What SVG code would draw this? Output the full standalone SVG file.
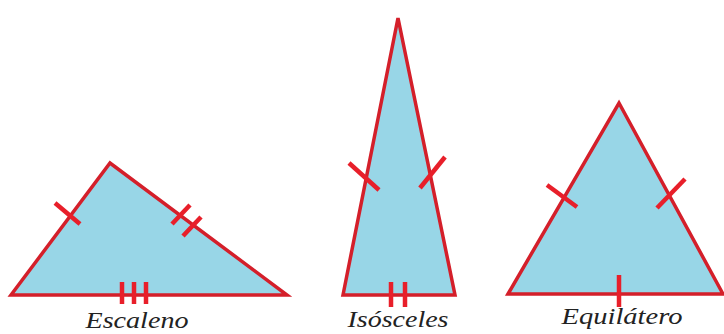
<svg xmlns="http://www.w3.org/2000/svg" width="724" height="334" viewBox="0 0 724 334">
<style>
.tri{fill:#98d6e7;stroke:#d41f2a;stroke-width:3.5;stroke-linejoin:miter}
.tick{stroke:#e81f2a;stroke-width:4.5;fill:none}
.lbl{font-family:"Liberation Serif","DejaVu Serif",serif;font-style:italic;font-size:23px;fill:#222;text-anchor:middle}
</style>
<rect width="724" height="334" fill="#ffffff"/>
<g id="escaleno">
<polygon class="tri" points="11,295 110,163 287,295"/>
<line class="tick" x1="55" y1="203" x2="80" y2="224"/>
<line class="tick" x1="172" y1="224" x2="190" y2="205"/>
<line class="tick" x1="183" y1="236" x2="201" y2="217"/>
<line class="tick" x1="122" y1="282" x2="122" y2="304"/>
<line class="tick" x1="134" y1="282" x2="134" y2="304"/>
<line class="tick" x1="146" y1="282" x2="146" y2="304"/>
<text class="lbl" x="137" y="328" textLength="103" lengthAdjust="spacingAndGlyphs">Escaleno</text>
</g>
<g id="isosceles">
<polygon class="tri" points="343,295 398,18 455,295"/>
<line class="tick" x1="349" y1="163" x2="379" y2="190"/>
<line class="tick" x1="445" y1="157" x2="420" y2="188"/>
<line class="tick" x1="391" y1="282" x2="391" y2="307"/>
<line class="tick" x1="405" y1="282" x2="405" y2="307"/>
<text class="lbl" x="398" y="327" textLength="101" lengthAdjust="spacingAndGlyphs">Isósceles</text>
</g>
<g id="equilatero">
<polygon class="tri" points="508,294 619,103 723,294"/>
<line class="tick" x1="547" y1="185" x2="577" y2="207"/>
<line class="tick" x1="685" y1="179" x2="657" y2="208"/>
<line class="tick" x1="619" y1="275" x2="619" y2="307"/>
<text class="lbl" x="622" y="324" textLength="121" lengthAdjust="spacingAndGlyphs">Equilátero</text>
</g>
<g id="connectors"></g>
</svg>
